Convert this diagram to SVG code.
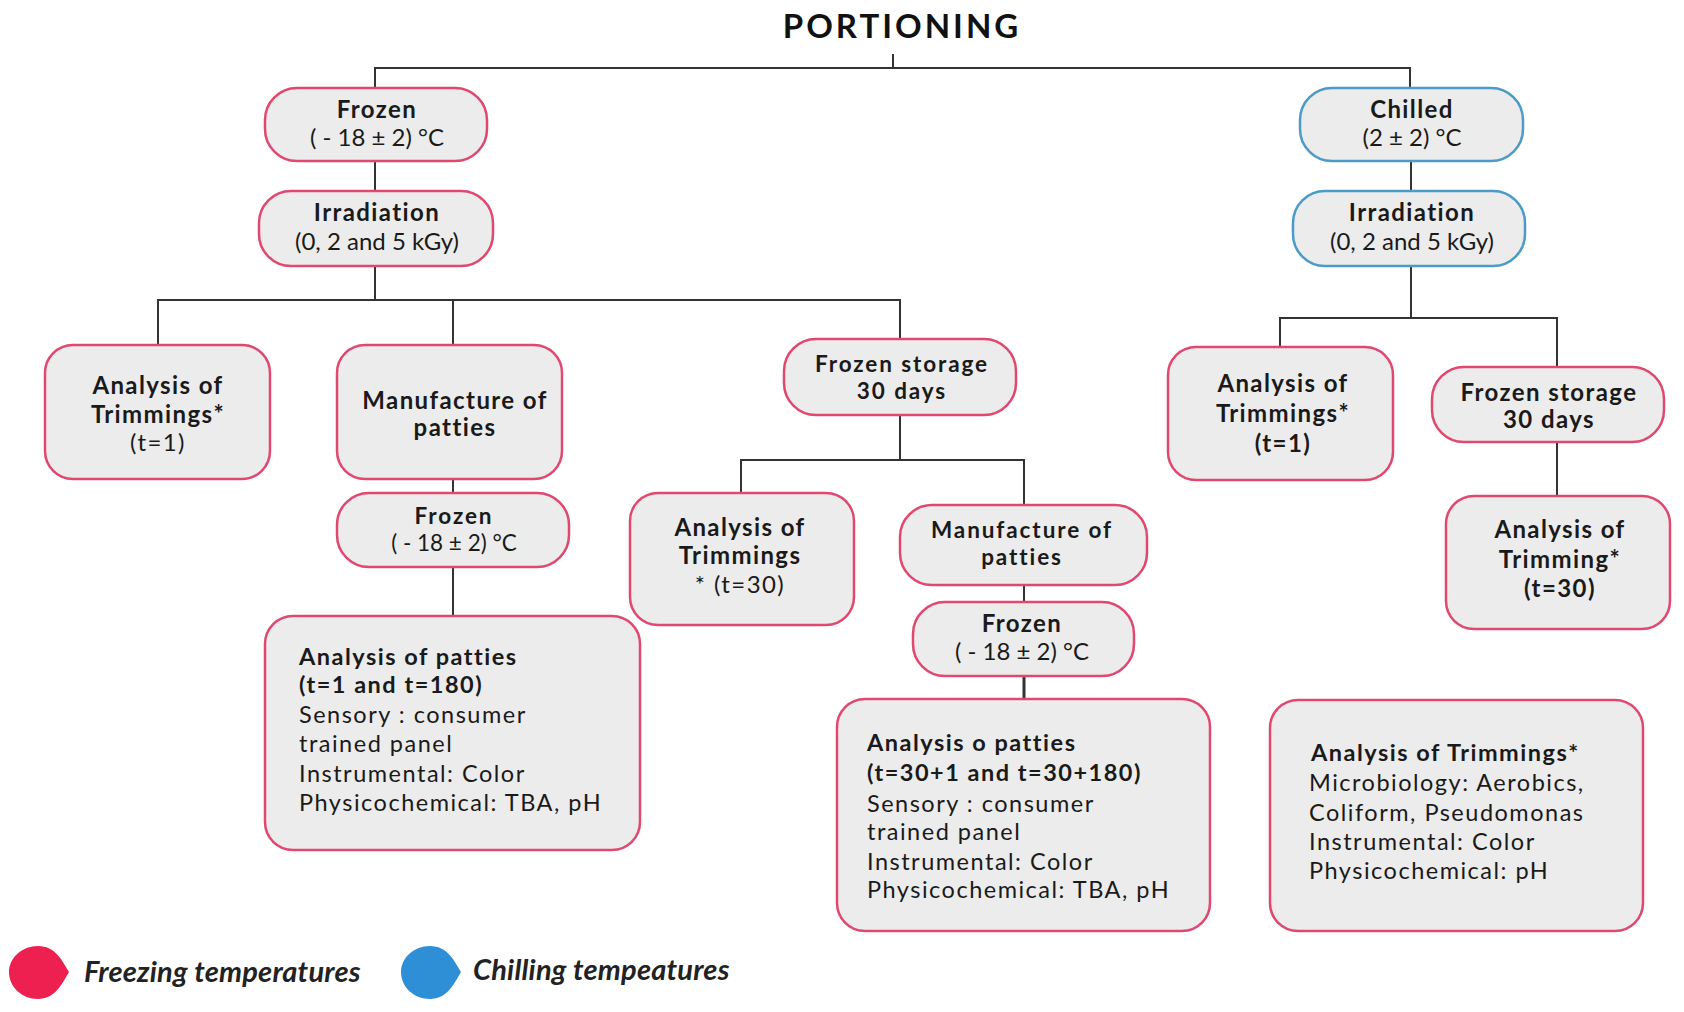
<svg xmlns="http://www.w3.org/2000/svg" width="1684" height="1012" viewBox="0 0 1684 1012">
<style>
.bg{fill:#fff}
.box{fill:#ececec;stroke:#e0486f;stroke-width:2.5}
.cbox{fill:#ececec;stroke:#4a9bc7;stroke-width:2.5}
.t{font-family:Lato,"Open Sans",sans-serif;font-size:24px;fill:#1a1a1a;text-anchor:middle;letter-spacing:1.4px}
.s{font-size:22.5px;letter-spacing:1.9px}
.b{font-weight:bold}
.n{letter-spacing:0}
.l{font-family:Lato,"Open Sans",sans-serif;font-size:23.5px;fill:#1a1a1a;letter-spacing:1.5px}
.title{font-family:Lato,"Open Sans",sans-serif;font-size:33px;font-weight:bold;fill:#111;text-anchor:middle;letter-spacing:3px}
.leg{font-family:Lato,"Open Sans",sans-serif;font-size:29px;font-weight:bold;font-style:italic;fill:#222;letter-spacing:0.2px}
.c{stroke:#333;stroke-width:2;fill:none}
</style>
<rect class="bg" width="1684" height="1012"/>
<text class="title" x="902" y="38">PORTIONING</text>

<g id="connectors">
<path class="c" d="M893 54V68M375 88V68H1410V88"/>
<path class="c" d="M375 161V191"/>
<path class="c" d="M375 266V300M158 345V300H900V339M453 300V345"/>
<path class="c" d="M453 479V493M453 567V616"/>
<path class="c" d="M900 415V460M741 493V460H1024V505"/>
<path class="c" d="M1024 585V602"/>
<path class="c" d="M1024 676V699" style="stroke-width:3"/>
<path class="c" d="M1411 161V191"/>
<path class="c" d="M1411 266V318M1280 347V318H1557V367"/>
<path class="c" d="M1557 442V496"/>
</g>

<g id="frozen1">
<rect class="box" x="265" y="88" width="222" height="73" rx="32"/>
<text class="t b" x="377" y="118">Frozen</text>
<text class="t n" x="377" y="146">( - 18 ± 2) °C</text>
</g>
<g id="irradiation1">
<rect class="box" x="259" y="191" width="234" height="75" rx="32"/>
<text class="t b" x="377" y="221">Irradiation</text>
<text class="t n" x="377" y="250">(0, 2 and 5 kGy)</text>
</g>
<g id="trim1">
<rect class="box" x="45" y="345" width="225" height="134" rx="28"/>
<text class="t b" x="158" y="394">Analysis of</text>
<text class="t b" x="158" y="423">Trimmings*</text>
<text class="t" x="158" y="451">(t=1)</text>
</g>
<g id="manuf1">
<rect class="box" x="337" y="345" width="225" height="134" rx="28"/>
<text class="t b" x="455" y="409">Manufacture of</text>
<text class="t b" x="455" y="436">patties</text>
</g>
<g id="frozen2">
<rect class="box" x="337" y="493" width="232" height="74" rx="32"/>
<text class="t s b" x="454" y="524">Frozen</text>
<text class="t s n" x="454" y="551">( - 18 ± 2) °C</text>
</g>
<g id="patties1">
<rect class="box" x="265" y="616" width="375" height="234" rx="28"/>
<text class="l b" x="299" y="665">Analysis of patties</text>
<text class="l b" x="299" y="693">(t=1 and t=180)</text>
<text class="l" x="299" y="723">Sensory : consumer</text>
<text class="l" x="299" y="752">trained panel</text>
<text class="l" x="299" y="782">Instrumental: Color</text>
<text class="l" x="299" y="811">Physicochemical: TBA, pH</text>
</g>
<g id="storage1">
<rect class="box" x="784" y="339" width="232" height="76" rx="32"/>
<text class="t s b" x="902" y="372">Frozen storage</text>
<text class="t s b" x="902" y="399">30 days</text>
</g>
<g id="trim30">
<rect class="box" x="630" y="493" width="224" height="132" rx="28"/>
<text class="t b" x="740" y="536">Analysis of</text>
<text class="t b" x="740" y="564">Trimmings</text>
<text class="t" x="740" y="593">* (t=30)</text>
</g>
<g id="manuf2">
<rect class="box" x="900" y="505" width="247" height="80" rx="32"/>
<text class="t s b" x="1022" y="538">Manufacture of</text>
<text class="t s b" x="1022" y="565">patties</text>
</g>
<g id="frozen3">
<rect class="box" x="913" y="602" width="221" height="74" rx="32"/>
<text class="t b" x="1022" y="632">Frozen</text>
<text class="t n" x="1022" y="660">( - 18 ± 2) °C</text>
</g>
<g id="patties2">
<rect class="box" x="837" y="699" width="373" height="232" rx="28"/>
<text class="l b" x="867" y="751">Analysis o patties</text>
<text class="l b" x="867" y="781">(t=30+1 and t=30+180)</text>
<text class="l" x="867" y="812">Sensory : consumer</text>
<text class="l" x="867" y="840">trained panel</text>
<text class="l" x="867" y="870">Instrumental: Color</text>
<text class="l" x="867" y="898">Physicochemical: TBA, pH</text>
</g>
<g id="chilled">
<rect class="cbox" x="1300" y="88" width="223" height="73" rx="32"/>
<text class="t b" x="1412" y="118">Chilled</text>
<text class="t n" x="1412" y="146">(2 ± 2) °C</text>
</g>
<g id="irradiation2">
<rect class="cbox" x="1293" y="191" width="232" height="75" rx="32"/>
<text class="t b" x="1412" y="221">Irradiation</text>
<text class="t n" x="1412" y="250">(0, 2 and 5 kGy)</text>
</g>
<g id="trim1b">
<rect class="box" x="1168" y="347" width="225" height="133" rx="28"/>
<text class="t b" x="1283" y="392">Analysis of</text>
<text class="t b" x="1283" y="422">Trimmings*</text>
<text class="t b" x="1283" y="452">(t=1)</text>
</g>
<g id="storage2">
<rect class="box" x="1432" y="367" width="232" height="75" rx="32"/>
<text class="t b" x="1549" y="401">Frozen storage</text>
<text class="t b" x="1549" y="428">30 days</text>
</g>
<g id="trim30b">
<rect class="box" x="1446" y="496" width="224" height="133" rx="28"/>
<text class="t b" x="1560" y="538">Analysis of</text>
<text class="t b" x="1560" y="568">Trimming*</text>
<text class="t b" x="1560" y="597">(t=30)</text>
</g>
<g id="trimInfo">
<rect class="box" x="1270" y="700" width="373" height="231" rx="28"/>
<text class="l b" x="1311" y="761">Analysis of Trimmings*</text>
<text class="l" x="1309" y="791">Microbiology:  Aerobics,</text>
<text class="l" x="1309" y="821">Coliform, Pseudomonas</text>
<text class="l" x="1309" y="850">Instrumental: Color</text>
<text class="l" x="1309" y="879">Physicochemical: pH</text>
</g>

<g id="legend">
<path d="M38 946C55 946 62 960 69 972C62 984 55 999 38 999C22 999 9 987 9 972C9 958 22 946 38 946Z" fill="#ee2050"/>
<text class="leg" x="84" y="982">Freezing temperatures</text>
<path d="M430 946C447 946 454 960 461 972C454 984 447 999 430 999C414 999 401 987 401 972C401 958 414 946 430 946Z" fill="#2e8fd6"/>
<text class="leg" x="473" y="980">Chilling tempeatures</text>
</g>
</svg>
